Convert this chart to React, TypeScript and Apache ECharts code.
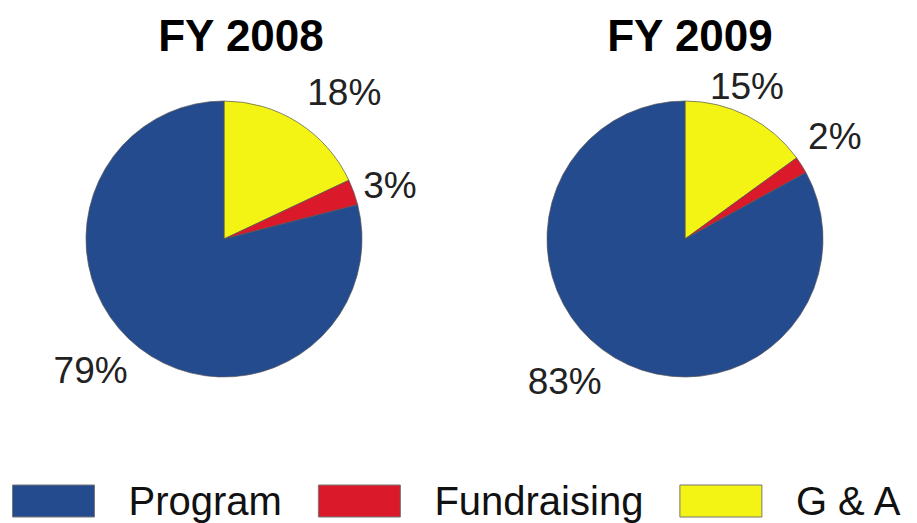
import React, { useEffect, useRef } from "react";
import * as echarts from "echarts";

const categories = ["G & A", "Fundraising", "Program"];
const legendOrder = ["Program", "Fundraising", "G & A"];
const years = ["FY 2008", "FY 2009"];
const values2008 = [18, 3, 79];
const values2009 = [15, 2, 83];
const colors: Record<string, string> = {
  Program: "#244B8E",
  Fundraising: "#DA1A2B",
  "G & A": "#F3F314",
};
// per-slice label placement (line lengths, style only)
const labelLines2008 = [
  [36, -15],
  [18.5, -13],
  [29, -11],
];
const labelLines2009 = [
  [33.7, -58],
  [54, -44],
  [27.6, -6],
];

const FONT = "'Liberation Sans', Arial, sans-serif";

function buildData(values: number[], lines: number[][]) {
  return categories.map((name, i) => ({
    name,
    value: values[i],
    itemStyle: { color: colors[name] },
    labelLine: { show: false, length: lines[i][0], length2: lines[i][1] },
  }));
}

export default function App() {
  const ref = useRef<HTMLDivElement>(null);
  useEffect(() => {
    if (!ref.current) return;
    const chart = echarts.init(ref.current, undefined, { renderer: "svg" });
    const pieBase = {
      type: "pie" as const,
      radius: 138,
      startAngle: 90,
      clockwise: true,
      avoidLabelOverlap: false,
      itemStyle: { borderColor: "#555", borderWidth: 0.7 },
      label: {
        show: true,
        position: "outside",
        formatter: "{c}%",
        fontFamily: FONT,
        fontSize: 37,
        color: "#222",
        distanceToLabelLine: 5,
      },
      emphasis: { disabled: true },
    };
    chart.setOption({
      animation: false,
      backgroundColor: "#ffffff",
      title: [
        {
          text: years[0],
          left: 236,
          top: 8,
          textAlign: "center",
          textStyle: { fontFamily: FONT, fontSize: 44, fontWeight: "bold", color: "#000" },
        },
        {
          text: years[1],
          left: 685,
          top: 8,
          textAlign: "center",
          textStyle: { fontFamily: FONT, fontSize: 44, fontWeight: "bold", color: "#000" },
        },
      ],
      legend: {
        data: legendOrder,
        left: 12,
        top: 481,
        padding: 0,
        icon: "rect",
        itemWidth: 82,
        itemHeight: 32,
        itemGap: 36,
        itemStyle: { borderColor: "#777", borderWidth: 1 },
        textStyle: {
          fontFamily: FONT,
          fontSize: 40,
          color: "#111",
          padding: [0, 0, 0, 29],
        },
        selectedMode: false,
      },
      series: [
        {
          ...pieBase,
          name: years[0],
          center: [224, 239],
          data: buildData(values2008, labelLines2008),
        },
        {
          ...pieBase,
          name: years[1],
          center: [685, 239],
          data: buildData(values2009, labelLines2009),
        },
      ],
    });
    return () => chart.dispose();
  }, []);
  return (
    <div
      ref={ref}
      style={{ position: "fixed", left: 0, top: 0, width: 917, height: 523 }}
    />
  );
}
